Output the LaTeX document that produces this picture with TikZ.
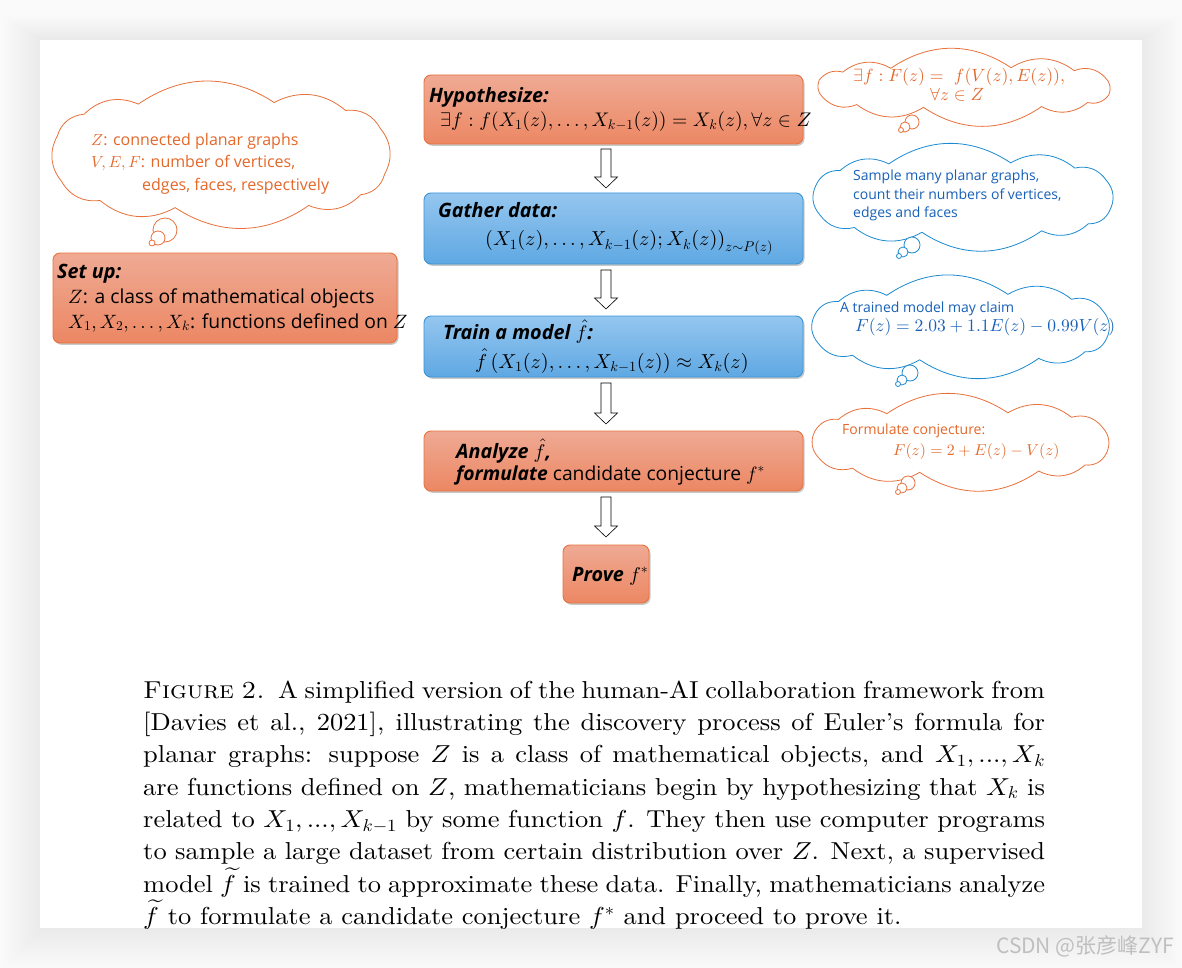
\documentclass[tikz,border=0pt]{standalone}
\usepackage{fontspec}
\usetikzlibrary{shadows,calc}
\DeclareFontShape{OML}{cmm}{m}{it}{<->cmmi10}{}
\DeclareFontShape{OMS}{cmsy}{m}{n}{<->cmsy10}{}
\DeclareFontShape{OMX}{cmex}{m}{n}{<->cmex10}{}
\DeclareFontShape{OT1}{cmr}{m}{n}{<->cmr10}{}
\newfontfamily\boxfont{Open Sans}
\newfontfamily\capfont{lmroman10-regular}[Extension=.otf, Ligatures=TeX, ItalicFont=lmroman10-italic, SmallCapsFont=lmromancaps10-regular]
\newfontfamily\cjk{Noto Sans CJK SC}
\definecolor{orgtop}{HTML}{EFAA94}
\definecolor{orgbot}{HTML}{EC8763}
\definecolor{orgline}{HTML}{E8733E}
\definecolor{blutop}{HTML}{94C6EF}
\definecolor{blubot}{HTML}{5FA8E3}
\definecolor{bluline}{HTML}{3B95D6}
\definecolor{cloudorg}{HTML}{E8703A}
\definecolor{cloudblu}{HTML}{1B8AD0}
\definecolor{txtorg}{HTML}{E4682A}
\definecolor{txtblu}{HTML}{1660B8}
\tikzset{declare function={sqz(\u)=\u*exp(-0.35*ln(max(abs(\u),0.001)));}}
% cloud outline: style, cx, cy, a, b, first angle, other angles
\newcommand{\thoughtcloud}[7]{%
  \filldraw[#1] ({#2+#4*sqz(cos(#6))},{#3+#5*sqz(sin(#6))})
    \foreach \t in {#7} { to ({#2+#4*sqz(cos(\t))},{#3+#5*sqz(sin(\t))}) }
    to ({#2+#4*sqz(cos(#6))},{#3+#5*sqz(sin(#6))});}
\tikzset{
  flowbox/.style={rounded corners=7pt, line width=0.9pt, inner sep=0pt, outer sep=0pt,
    drop shadow={shadow xshift=1.5pt, shadow yshift=-1.8pt, opacity=0.3, fill=black!70}},
  obox/.style={flowbox, draw=orgline, top color=orgtop, bottom color=orgbot},
  bbox/.style={flowbox, draw=bluline, top color=blutop, bottom color=blubot},
  boxtxt/.style={anchor=base west, inner sep=0pt, font=\boxfont\fontsize{19.3}{22}\selectfont},
  boxtitle/.style={boxtxt, font=\boxfont\bfseries\itshape\fontsize{19.8}{22}\selectfont},
  boxmath/.style={anchor=base west, inner sep=0pt, font=\fontsize{20.2}{24}\selectfont},
  ocloud/.style={fill=white, draw=cloudorg, line width=0.8pt, bend left=34},
  bcloud/.style={fill=white, draw=cloudblu, line width=0.8pt, bend left=34},
  bubble/.style={circle, line width=0.8pt, fill=white, inner sep=0pt},
  ctxt/.style={anchor=base west, inner sep=0pt},
  harrow/.style={draw=black, fill=white, line width=0.6pt,
    to path={let \p1=(\tikztostart), \p2=(\tikztotarget) in
      (\x1-5pt,\y1) -- (\x1+5pt,\y1) -- (\x1+5pt,\y2+11pt) -- (\x1+11.5pt,\y2+11pt)
      -- (\x1,\y2) -- (\x1-11.5pt,\y2+11pt) -- (\x1-5pt,\y2+11pt) -- cycle}}
}
\begin{document}
\begin{tikzpicture}[x=1pt,y=-1pt]
\useasboundingbox (0,0) rectangle (1182,968);
% page and its shadow
\fill[black!2] (0,0) rectangle (1182,968);
\foreach \i in {0,...,15}
  \fill[black, opacity=0.005] (40-2.5*\i,39-1.5*\i) rectangle (1142+2.5*\i,930+2.5*\i);
\fill[white] (40,40) rectangle (1142,928);

% ---------- flow boxes ----------
\node[obox, minimum width=379pt, minimum height=69pt] (hyp) at (613.5,109.5) {};
\node[bbox, minimum width=379pt, minimum height=71pt] (gat) at (613.5,228.5) {};
\node[bbox, minimum width=379pt, minimum height=61pt] (trn) at (613.5,346.5) {};
\node[obox, minimum width=379pt, minimum height=60pt] (ana) at (613.5,461) {};
\node[obox, minimum width=86pt, minimum height=58pt] (prv) at (606,574) {};
\node[obox, minimum width=344pt, minimum height=90pt] (set) at (225,298) {};

% box texts
\node[boxtitle] (hypT) at (429,103) {Hypothesize:};
\node[boxmath, font=\fontsize{19.7}{24}\selectfont] (hypM) at (440,127) {$\exists f : f\big(X_1(z),\dots,X_{k-1}(z)\big)=X_k(z),\forall z\in Z$};
\node[boxtitle] (gatT) at (438,218) {Gather data:};
\node[boxmath] (gatM) at (485,246) {$\big(X_1(z),\dots,X_{k-1}(z);X_k(z)\big)_{z\sim P(z)}$};
\node[boxtitle] (trnT) at (443,339) {Train a model $\hat f$:};
\node[boxmath] (trnM) at (475,368) {$\hat f\,\big(X_1(z),\dots,X_{k-1}(z)\big)\approx X_k(z)$};
\node[boxtitle] (anaT) at (456,458) {Analyze $\hat f$,};
\node[boxtxt] (anaL) at (456,480) {{\bfseries\itshape formulate} candidate conjecture $f^*$};
\node[boxtitle] (prvT) at (572,581) {Prove $f^*$};
\node[boxtitle] (setT) at (57,278) {Set up:};
\node[boxtxt] (setA) at (68,303) {$Z$: a class of mathematical objects};
\node[boxtxt] (setB) at (68,328) {$X_1,X_2,\dots,X_k$: functions defined on $Z$};

% arrows
\draw[harrow] ($(hyp.south -| prv.center)+(0,5)$) to ($(gat.north -| prv.center)+(0,-5)$);
\draw[harrow] ($(gat.south -| prv.center)+(0,6)$) to ($(trn.north -| prv.center)+(0,-7)$);
\draw[harrow] ($(trn.south -| prv.center)+(0,6)$) to ($(ana.north -| prv.center)+(0,-7)$);
\draw[harrow] ($(ana.south -| prv.center)+(0,6)$) to ($(prv.north -| prv.center)+(0,-8)$);

% ---------- clouds ----------
\thoughtcloud{ocloud}{221}{155}{166}{53}{12}{40,68,98,128,160,192,222,250,280,310,340}
\node[bubble, draw=cloudorg, minimum size=24pt] (c0a) at (165,230) {};
\node[bubble, draw=cloudorg, minimum size=14pt] (c0b) at (158,238) {};
\node[bubble, draw=cloudorg, minimum size=6pt] (c0c) at (152,243) {};
\node[ctxt, text=txtorg, font=\boxfont\fontsize{16}{20}\selectfont] (c0t1) at (91,146) {$Z$: connected planar graphs};
\node[ctxt, text=txtorg, font=\boxfont\fontsize{16}{20}\selectfont] (c0t2) at (91,168) {$V,E,F$: number of vertices,};
\node[ctxt, text=txtorg, font=\boxfont\fontsize{16}{20}\selectfont] (c0t3) at (142,191) {edges, faces, respectively};

\thoughtcloud{ocloud}{964}{87.5}{147}{20}{12}{40,68,98,128,160,192,222,250,280,310,340}
\node[bubble, draw=cloudorg, minimum size=14pt] (c1a) at (912,122) {};
\node[bubble, draw=cloudorg, minimum size=10pt] (c1b) at (905,127) {};
\node[bubble, draw=cloudorg, minimum size=5pt] (c1c) at (901,130) {};
\node[ctxt, text=txtorg, font=\fontsize{17.7}{20}\selectfont] (c1t1) at (853,82) {$\exists f : F(z) = \ f\big(V(z),E(z)\big),$};
\node[ctxt, text=txtorg, font=\fontsize{17.7}{20}\selectfont] (c1t2) at (930,101) {$\forall z\in Z$};

\thoughtcloud{bcloud}{963}{197.5}{149}{35}{12}{40,68,98,128,160,192,222,250,280,310,340}
\node[bubble, draw=cloudblu, minimum size=16pt] (c2a) at (912,245) {};
\node[bubble, draw=cloudblu, minimum size=10pt] (c2b) at (903,252) {};
\node[bubble, draw=cloudblu, minimum size=5pt] (c2c) at (899,256) {};
\node[ctxt, text=txtblu, font=\boxfont\fontsize{14}{18}\selectfont] (c2t1) at (853,181) {Sample many planar graphs,};
\node[ctxt, text=txtblu, font=\boxfont\fontsize{14}{18}\selectfont] (c2t2) at (853,200) {count their numbers of vertices,};
\node[ctxt, text=txtblu, font=\boxfont\fontsize{14}{18}\selectfont] (c2t3) at (853,218) {edges and faces};

\thoughtcloud{bcloud}{960.5}{327}{148}{33}{12}{40,68,98,128,160,192,222,250,280,310,340}
\node[bubble, draw=cloudblu, minimum size=16pt] (c3a) at (910,373) {};
\node[bubble, draw=cloudblu, minimum size=10pt] (c3b) at (902,380) {};
\node[bubble, draw=cloudblu, minimum size=5pt] (c3c) at (898,384) {};
\node[ctxt, text=txtblu, font=\boxfont\fontsize{14}{18}\selectfont] (c3t1) at (840,312) {A trained model may claim};
\node[ctxt, text=txtblu, font=\fontsize{17.5}{20}\selectfont] (c3t2) at (855,331) {$F(z)=2.03+1.1E(z)-0.99V(z)$};

\thoughtcloud{ocloud}{960.5}{442.5}{148}{30}{12}{40,68,98,128,160,192,222,250,280,310,340}
\node[bubble, draw=cloudorg, minimum size=14pt] (c4a) at (908,483) {};
\node[bubble, draw=cloudorg, minimum size=10pt] (c4b) at (902,488) {};
\node[bubble, draw=cloudorg, minimum size=5pt] (c4c) at (898,492) {};
\node[ctxt, text=txtorg, font=\boxfont\fontsize{14}{18}\selectfont] (c4t1) at (842,434) {Formulate conjecture:};
\node[ctxt, text=txtorg, font=\fontsize{15.8}{20}\selectfont] (c4t2) at (893,455) {$F(z)=2+E(z)-V(z)$};

% ---------- caption ----------
\node[anchor=north west, inner sep=0pt, xscale=1.08, transform shape, text width=835pt, align=justify,
      font=\capfont\fontsize{24.5}{32.3}\selectfont] (cap) at (143,675.4) {\strut\textsc{Figure 2.}\enspace A simplified version of the human-AI collaboration framework from\linebreak
{[}Davies et al., 2021{]}, illustrating the discovery process of Euler's formula for\linebreak
planar graphs: suppose $Z$ is a class of mathematical objects, and $X_1,...,X_k$\linebreak
are functions defined on $Z$, mathematicians begin by hypothesizing that $X_k$ is\linebreak
related to $X_1,...,X_{k-1}$ by some function $f$. They then use computer programs\linebreak
to sample a large dataset from certain distribution over $Z$. Next, a supervised\linebreak
model $\widetilde{f}$ is trained to approximate these data. Finally, mathematicians analyze\linebreak
$\widetilde{f}$ to formulate a candidate conjecture $f^*$ and proceed to prove it.};

% watermark
\node[anchor=east, inner sep=0pt, text=black!25, font=\cjk\fontsize{21}{24}\selectfont] (wm) at (1174,946) {CSDN @张彦峰ZYF};
\end{tikzpicture}
\end{document}
